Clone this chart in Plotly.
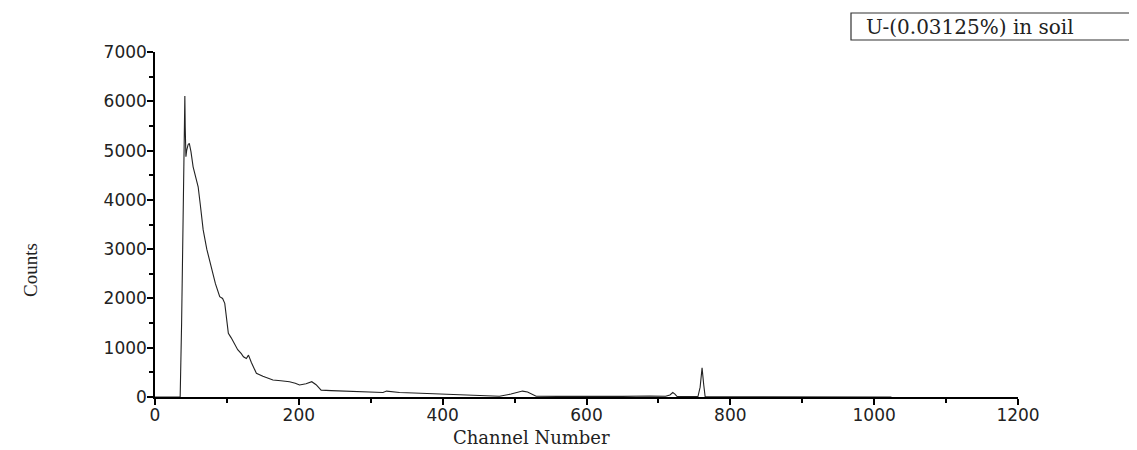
import plotly.graph_objects as go

channel = [0, 30, 35, 37, 38.5, 40, 41.5, 42, 43, 44, 45, 46, 47.7, 50, 53, 56, 60, 63, 67, 72, 79, 84, 90, 94, 97, 100, 102,
           106, 109, 115, 120, 123, 127, 130, 134, 141, 150, 157, 164, 175, 187, 195, 201, 210, 218, 224, 231, 245, 260, 271,
           290, 305, 317, 322, 340, 360, 380, 410, 440, 479, 495, 505, 511, 518, 530, 560, 590, 618, 650, 688, 710, 716, 720,
           723, 726, 740, 755, 758, 760.7, 763, 765, 770, 800, 900, 1024]
counts = [0, 0, 0, 1500, 3390, 5500, 6105, 5480, 4875, 5000, 5050, 5120, 5145, 4980, 4670, 4500, 4265, 3900, 3390, 3000, 2575,
          2300, 2035, 2000, 1900, 1550, 1290, 1200, 1120, 960, 880, 815, 780, 850, 700, 480, 420, 380, 345, 330, 310, 280,
          245, 270, 310, 250, 140, 130, 120, 110, 100, 95, 90, 120, 90, 80, 70, 50, 35, 15, 60, 100, 120, 100, 15, 12, 10, 10,
          12, 20, 15, 40, 90, 60, 10, 8, 10, 200, 590, 250, 5, 3, 2, 1, 0]

x_ticks = [0, 200, 400, 600, 800, 1000, 1200]
y_ticks = [0, 1000, 2000, 3000, 4000, 5000, 6000, 7000]

# page is offset by the 8px body margin
OFF = 8
W, H = 1137 - OFF, 450 - OFF
L, T = 155 - OFF, 52 - OFF
R = W - (1018 - OFF)
B = H - (397 - OFF)
pw = W - L - R
ph = H - T - B


def px(xp):
    return (xp - OFF - L) / pw


def py(yp):
    return (H - B - (yp - OFF)) / ph


fig = go.Figure()
fig.add_trace(go.Scatter(x=channel, y=counts, mode="lines",
                         line=dict(color="#222222", width=1.1), showlegend=False))

axis_font = dict(family="DejaVu Sans", size=17, color="#222222")
common = dict(ticks="outside", ticklen=6, tickwidth=1.5, tickcolor="black", showline=True,
              linecolor="black", linewidth=1.5, showgrid=False, zeroline=False,
              tickfont=axis_font, automargin=False)
fig.update_layout(
    width=W, height=H,
    margin=dict(l=L, r=R, t=T, b=B, autoexpand=False),
    plot_bgcolor="white", paper_bgcolor="white",
    xaxis=dict(range=[0, 1200], tickvals=x_ticks, ticklabelstandoff=-4,
               minor=dict(dtick=100, ticks="outside", ticklen=4, tickwidth=1.5, tickcolor="black"),
               **common),
    yaxis=dict(range=[0, 7000], tickvals=y_ticks, ticklabelstandoff=-3,
               minor=dict(dtick=500, ticks="outside", ticklen=4, tickwidth=1.5, tickcolor="black"),
               **common),
)

fig.add_annotation(text="Channel Number", xref="paper", yref="paper",
                   x=px(531), y=py(438), showarrow=False, xanchor="center", yanchor="middle",
                   font=dict(family="DejaVu Serif", size=18, color="#222222"))

fig.add_annotation(text="Counts", xref="paper", yref="paper",
                   x=px(30), y=py(270), showarrow=False, textangle=-90,
                   font=dict(family="Liberation Serif", size=19, color="#222222"),
                   xanchor="center", yanchor="middle")

fig.add_shape(type="rect", xref="paper", yref="paper",
              x0=px(851), x1=px(1145), y0=py(40), y1=py(13),
              line=dict(color="#333333", width=1.2), fillcolor="white")
fig.add_annotation(text="U-(0.03125%) in soil", xref="paper", yref="paper",
                   x=px(864), y=py(27), showarrow=False, xanchor="left", yanchor="middle",
                   font=dict(family="DejaVu Serif", size=20, color="#222222"))

fig.write_html("out.html")
